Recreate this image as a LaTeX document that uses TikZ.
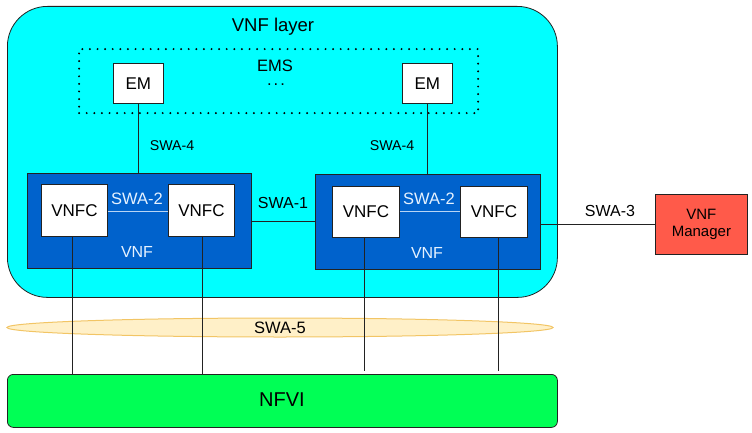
\documentclass[tikz,border=0pt]{standalone}
\usepackage{fontspec}
\setmainfont{Liberation Sans}
\usetikzlibrary{shapes.geometric,calc}
\definecolor{layercyan}{HTML}{00FFFF}
\definecolor{vnfblue}{HTML}{0062CC}
\definecolor{nfvigreen}{HTML}{00FF55}
\definecolor{mgrred}{HTML}{FF5A4A}
\definecolor{swafill}{HTML}{FFF0C8}
\definecolor{swaline}{HTML}{F2C565}
\definecolor{lighttxt}{HTML}{E6F2FF}
\definecolor{linegray}{HTML}{222222}
\tikzset{
  box/.style={draw=linegray, line width=0.8pt, anchor=north west, inner sep=0pt},
  whitebox/.style={box, fill=white, font=\fontsize{17}{20}\selectfont},
  vnfbox/.style={box, fill=vnfblue},
  lbl/.style={font=\fontsize{15}{18}\selectfont, inner sep=0pt},
  wlbl/.style={lbl, text=lighttxt, font=\fontsize{16}{19}\selectfont},
  conn/.style={draw=linegray, line width=0.8pt},
}
\begin{document}
\begin{tikzpicture}[x=1pt,y=-1pt]
\useasboundingbox (0,0) rectangle (752,433);
% VNF layer
\node[box, fill=layercyan, rounded corners=40pt, minimum width=550pt, minimum height=291pt] (layer) at (7,6) {};
\node[lbl, font=\fontsize{18.5}{22}\selectfont] (layerlbl) at (273,27) {VNF layer};
% EMS dotted
\node[draw=black, line width=2.2pt, dash pattern=on 0pt off 7.6pt, line cap=round, anchor=north west, minimum width=399pt, minimum height=64pt, inner sep=0pt] (ems) at (78,48) {};
\node[lbl, font=\fontsize{16.5}{20}\selectfont, align=center, anchor=north] (emslbl) at (275,60) {EMS\\[-6pt]\kern2pt.\kern2pt.\kern2pt.};
\node[whitebox, minimum width=50pt, minimum height=40pt] (em1) at (113,63) {EM};
\node[whitebox, minimum width=50pt, minimum height=40pt] (em2) at (402,63) {EM};
% VNFs
\node[vnfbox, minimum width=224pt, minimum height=95pt] (vnf1) at (27,173) {};
\node[vnfbox, minimum width=225pt, minimum height=95pt] (vnf2) at (315,174) {};
\node[whitebox, minimum width=66pt, minimum height=52pt] (c1) at (41,184) {VNFC};
\node[whitebox, minimum width=66pt, minimum height=52pt] (c2) at (168,184) {VNFC};
\node[whitebox, minimum width=67pt, minimum height=51pt] (c3) at (332,186) {VNFC};
\node[whitebox, minimum width=67pt, minimum height=51pt] (c4) at (460,186) {VNFC};
\node[wlbl] (vnf1lbl) at (137,252) {VNF};
\node[wlbl] (vnf2lbl) at (427,253) {VNF};
% SWA-2
\draw[lighttxt!80!vnfblue, line width=0.8pt] (c1.east |- 0,211) -- (c2.west |- 0,211);
\draw[lighttxt!80!vnfblue, line width=0.8pt] (c3.east |- 0,211) -- (c4.west |- 0,211);
\node[wlbl, font=\fontsize{16.5}{19}\selectfont] (swa2a) at (137,199) {SWA-2};
\node[wlbl, font=\fontsize{16.5}{19}\selectfont] (swa2b) at (429,199) {SWA-2};
% SWA-4
\draw[conn] (em1.south) -- (em1.south |- vnf1.north);
\draw[conn] (em2.south) -- (em2.south |- vnf2.north);
\node[lbl, font=\fontsize{14.2}{17}\selectfont] (swa4a) at (172,146) {SWA-4};
\node[lbl, font=\fontsize{14.2}{17}\selectfont] (swa4b) at (392,146) {SWA-4};
% SWA-1
\draw[conn] (vnf1.east |- 0,221) -- (vnf2.west |- 0,221);
\node[lbl, font=\fontsize{16}{19}\selectfont] (swa1) at (283,203) {SWA-1};
% VNF Manager
\node[box, fill=mgrred, minimum width=92pt, minimum height=60pt, font=\fontsize{15}{18}\selectfont, align=center] (mgr) at (655,194) {VNF\\[-1pt]Manager};
\draw[conn] (vnf2.east |- mgr.west) -- (mgr.west);
\node[lbl, font=\fontsize{16}{19}\selectfont] (swa3) at (610,211) {SWA-3};
% SWA-5 ellipse
\node[ellipse, draw=swaline, fill=swafill, line width=1pt, minimum width=546pt, minimum height=19pt, inner sep=0pt] (swa5) at (280,327.5) {};
\node[lbl, font=\fontsize{16.5}{19}\selectfont] (swa5lbl) at (280,327.5) {SWA-5};
% NFVI
\node[box, fill=nfvigreen, rounded corners=6pt, minimum width=550pt, minimum height=53pt] (nfvi) at (7,374) {};
\node[lbl, font=\fontsize{20}{24}\selectfont] (nfvilbl) at (282,400) {NFVI};
% SWA-5 lines
\draw[conn] ([xshift=-2pt]c1.south) -- ([xshift=-2pt]c1.south |- nfvi.north);
\draw[conn] ([xshift=1pt]c2.south) -- ([xshift=1pt]c2.south |- nfvi.north);
\coordinate (e3) at ([xshift=-1.5pt]c3.south |- 0,371);
\coordinate (e4) at ([xshift=4pt]c4.south |- 0,371);
\draw[conn] ([xshift=-1.5pt]c3.south) -- (e3);
\draw[conn] ([xshift=4pt]c4.south) -- (e4);
\end{tikzpicture}
\end{document}
